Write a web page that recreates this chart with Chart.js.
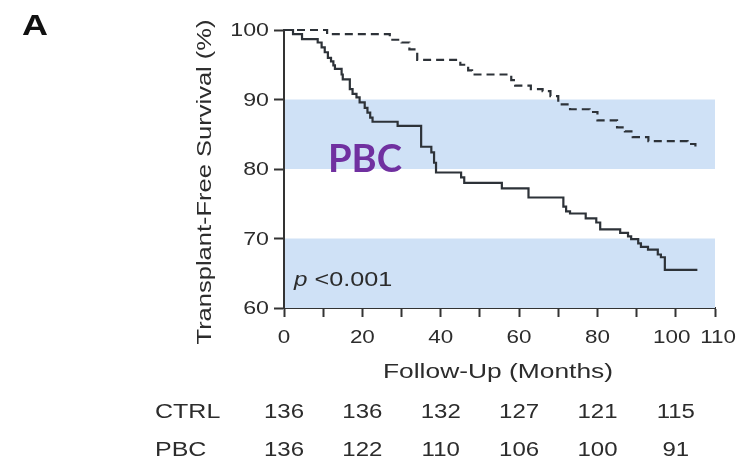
<!DOCTYPE html>
<html>
<head>
<meta charset="utf-8">
<script src="https://cdn.jsdelivr.net/npm/chart.js@4.4.1/dist/chart.umd.min.js"></script>
<style>
  html, body { margin: 0; padding: 0; background: #ffffff; }
  #wrap { width: 748px; height: 468px; position: relative; }
</style>
</head>
<body>
<div id="wrap"><canvas id="c" width="748" height="468"></canvas></div>
<script>
// ---- Data ----
const ctrlMonths   = [0, 11, 27, 30, 32, 34, 45, 47, 48, 58, 59, 63, 66, 68, 70, 73, 78, 80, 85, 87, 89, 93, 103, 105];
const ctrlSurvival = [100, 99.4, 98.6, 98.2, 97.2, 95.7, 95.0, 94.2, 93.6, 92.8, 92.0, 91.5, 91.2, 90.5, 89.3, 88.6, 88.2, 87.0, 86.0, 85.4, 84.6, 84.0, 83.6, 82.9];

const pbcMonths   = [0, 2.3, 4.6, 8.6, 9.6, 10.4, 11.2, 12, 12.6, 13, 14.7, 15, 16.8, 17.5, 18.5, 19.3, 20.6, 21.3, 22, 22.6, 29, 35, 37.6, 38.3, 38.8, 45.2, 46, 55.6, 62.4, 71.3, 72, 73, 77, 79.7, 80.7, 85.8, 87.8, 88.6, 90.4, 91.1, 92.9, 95.4, 96.2, 97.2, 105.5];
const pbcSurvival = [100, 99.4, 98.7, 98.2, 97.5, 96.8, 96.0, 95.5, 94.9, 94.4, 93.6, 92.9, 91.5, 90.8, 90.3, 89.6, 88.8, 88.1, 87.4, 86.8, 86.2, 83.2, 82.4, 80.9, 79.5, 78.8, 78.0, 77.2, 75.9, 74.6, 73.9, 73.6, 72.9, 72.3, 71.3, 70.8, 70.3, 69.9, 69.3, 68.8, 68.4, 67.7, 67.3, 65.5, 65.5];

const xTickLabels = [0, 20, 40, 60, 80, 100, 110];
const yTickLabels = [60, 70, 80, 90, 100];

const riskTimes   = [0, 20, 40, 60, 80, 100];
const riskGroups  = ['CTRL', 'PBC'];
const ctrlAtRisk  = [136, 136, 132, 127, 121, 115];
const pbcAtRisk   = [136, 122, 110, 106, 100, 91];

const bandRanges  = [[60, 70], [80, 90]];

// ---- helpers ----
const FONT = '"Liberation Sans", Arial, Helvetica, sans-serif';
const INK = '#2c2c2c';
function txt(ctx, s, x, y, o) {
  ctx.save();
  ctx.font = (o.style || 'normal') + ' ' + (o.weight || 'normal') + ' ' + o.size + 'px ' + (o.family || FONT);
  ctx.fillStyle = o.color || INK;
  ctx.textBaseline = o.baseline || 'middle';
  ctx.textAlign = 'left';
  const w = ctx.measureText(s).width;
  const sx = o.width ? o.width / w : (o.sx || 1.2);
  ctx.translate(x, y);
  if (o.rotate) ctx.rotate(o.rotate);
  ctx.scale(sx, 1);
  const off = o.align === 'center' ? -w / 2 : (o.align === 'right' ? -w : 0);
  ctx.fillText(s, off, 0);
  ctx.restore();
  return w * sx;
}

const bandsPlugin = {
  id: 'bands',
  beforeDatasetsDraw(chart) {
    const { ctx, chartArea, scales } = chart;
    ctx.save();
    ctx.fillStyle = '#cfe1f6';
    bandRanges.forEach(([lo, hi]) => {
      const yTop = scales.y.getPixelForValue(hi);
      const yBot = scales.y.getPixelForValue(lo);
      ctx.fillRect(chartArea.left + 1, yTop, chartArea.right - chartArea.left - 1, yBot - yTop);
    });
    ctx.restore();
  }
};

const textPlugin = {
  id: 'texts',
  afterDraw(chart) {
    const { ctx, scales } = chart;
    const xs = scales.x, ys = scales.y;
    // panel letter
    txt(ctx, 'A', 22, 35, { size: 29, weight: 'bold', baseline: 'alphabetic', width: 26, color: '#111' });
    // y tick labels
    yTickLabels.forEach(v => {
      txt(ctx, String(v), 269, ys.getPixelForValue(v) + 1, { size: 19, align: 'right', sx: 1.22 });
    });
    // x tick labels (last two nudged apart as in the original)
    xTickLabels.forEach((v, i) => {
      let nudge = 0;
      if (v === 100) nudge = -4;
      if (v === 110) nudge = 3;
      txt(ctx, String(v), xs.getPixelForValue(v) + nudge, 338, { size: 19, align: 'center', sx: 1.18 });
    });
    // axis titles
    txt(ctx, 'Follow-Up (Months)', 498, 372, { size: 20, align: 'center', width: 230 });
    txt(ctx, 'Transplant-Free Survival (%)', 205, 182, { size: 20, align: 'center', width: 325, rotate: -Math.PI / 2 });
    // annotations
    txt(ctx, 'PBC', 328, 172, { size: 38, weight: 'bold', baseline: 'alphabetic', width: 74, color: '#7030a0', family: 'Lato, "Open Sans", sans-serif' });
    const pw = txt(ctx, 'p', 294, 280, { size: 21, style: 'italic', sx: 1.15 });
    txt(ctx, ' <0.001', 294 + pw, 280, { size: 21, sx: 1.2 });
    // number at risk table
    const rows = [ctrlAtRisk, pbcAtRisk];
    const rowY = [412, 450];
    riskGroups.forEach((g, i) => {
      txt(ctx, g, 155, rowY[i], { size: 20, sx: 1.25 });
      riskTimes.forEach((t, j) => {
        txt(ctx, String(rows[i][j]), xs.getPixelForValue(t), rowY[i], { size: 20, align: 'center', sx: 1.2 });
      });
    });
  }
};

const toXY = (xsArr, ysArr) => xsArr.map((x, i) => ({ x: x, y: ysArr[i] }));
const AXIS = '#333333';

new Chart(document.getElementById('c'), {
  type: 'line',
  data: {
    datasets: [
      {
        label: 'CTRL',
        data: toXY(ctrlMonths, ctrlSurvival),
        stepped: true,
        borderColor: '#2d3238',
        borderWidth: 2.2,
        borderDash: [8, 5],
        pointRadius: 0,
        fill: false,
        clip: 8
      },
      {
        label: 'PBC',
        data: toXY(pbcMonths, pbcSurvival),
        stepped: true,
        borderColor: '#2d3238',
        borderWidth: 2.2,
        pointRadius: 0,
        fill: false,
        clip: 8
      }
    ]
  },
  options: {
    responsive: false,
    animation: false,
    devicePixelRatio: 1,
    layout: { padding: { left: 0, top: 30, right: 33, bottom: 0 } },
    plugins: { legend: { display: false }, tooltip: { enabled: false } },
    scales: {
      x: {
        type: 'linear',
        min: 0, max: 110,
        ticks: { stepSize: 10, display: false },
        grid: { drawOnChartArea: false, drawTicks: true, tickLength: 9, tickWidth: 2, tickColor: AXIS },
        border: { display: true, width: 2, color: AXIS },
        afterFit: s => { s.height = 160; }
      },
      y: {
        type: 'linear',
        min: 60, max: 100,
        ticks: { stepSize: 10, display: false },
        grid: { drawOnChartArea: false, drawTicks: true, tickLength: 10, tickWidth: 2, tickColor: AXIS },
        border: { display: true, width: 2, color: AXIS },
        afterFit: s => { s.width = 284; }
      }
    }
  },
  plugins: [bandsPlugin, textPlugin]
});
</script>
</body>
</html>
